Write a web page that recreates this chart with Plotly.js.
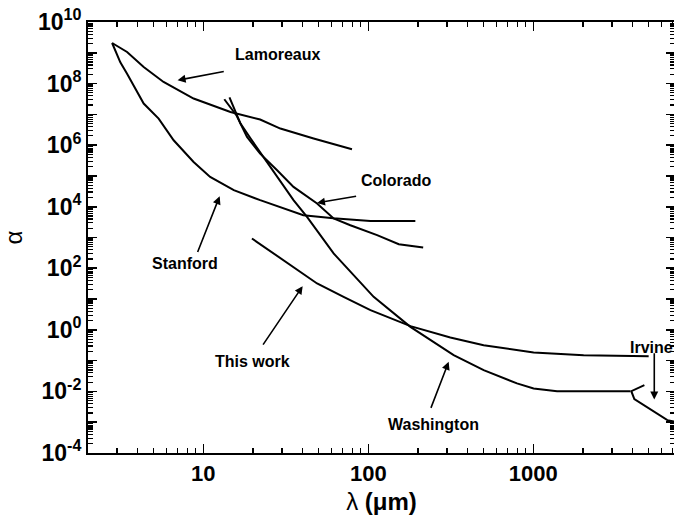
<!DOCTYPE html>
<html>
<head>
<meta charset="utf-8">
<script src="https://cdn.plot.ly/plotly-3.0.1.min.js"></script>
<style>
html,body{margin:0;padding:0;overflow:hidden;background:#fff;}
#chart{width:680px;height:522px;}
</style>
</head>
<body>
<div id="chart"></div>
<script>
// ---- data (lambda in micrometres, alpha) ----
var lamoreauxX = [2.80, 3.45, 4.35, 5.74, 8.73, 14.6, 22.1, 29.3, 46.6, 79.6];
var lamoreauxY = [2.08e9, 1.06e9, 3.46e8, 1.13e8, 3.26e7, 1.2e7, 6.8e6, 3.46e6, 1.64e6, 7.4e5];

var stanfordX = [2.80, 3.14, 3.45, 4.35, 5.36, 6.61, 8.73, 11.0, 15.3, 22.1, 40.4, 61.4, 102.8, 192.7];
var stanfordY = [2.08e9, 4.9e8, 2.1e8, 2.24e7, 7.3e6, 1.44e6, 2.85e5, 9.3e4, 3.44e4, 1.63e4, 5.3e3, 4.24e3, 3.46e3, 3.46e3];

var washingtonX = [14.4, 16.8, 19.3, 25.5, 35.2, 42.5, 61.6, 107.7, 179.9, 329, 500, 796, 1004, 1393, 3873];
var washingtonY = [3.59e7, 5.03e6, 1.67e6, 1.96e5, 1.63e4, 4.67e3, 303, 11.8, 1.25, 0.151, 0.0492, 0.0182, 0.0125, 0.0102, 0.0102];

var coloradoX = [13.4, 15.85, 18.4, 22.1, 28.0, 35.2, 48.9, 61.6, 77.8, 113, 153, 215];
var coloradoY = [3.09e7, 9.4e6, 1.85e6, 5.3e5, 1.53e5, 4.4e4, 1.27e4, 4.14e3, 2.5e3, 1.19e3, 606, 473];

var thisWorkX = [19.7, 30.7, 48.9, 70.8, 103, 180, 314, 500, 1004, 2018, 5000];
var thisWorkY = [929, 183, 32.1, 11.8, 4.37, 1.32, 0.566, 0.318, 0.184, 0.151, 0.140];

var irvineX = [4710, 3925, 4095, 5890, 6490, 7160];
var irvineY = [0.016, 0.0102, 0.00562, 0.0017, 0.00117, 0.00104];

var xTickVals = [10, 100, 1000];
var xTickText = ['10', '100', '1000'];
var yExponents = [-4, -3, -2, -1, 0, 1, 2, 3, 4, 5, 6, 7, 8, 9, 10];

// ---- build ticks ----
var yTickVals = yExponents.map(function(e){ return Math.pow(10, e); });
var yTickText = yExponents.map(function(e){ return (e % 2 === 0) ? '10<sup>' + e + '</sup>' : ''; });

var xMinor = [];
for (var d = 0; d <= 3; d++) {
  for (var m = 2; m <= 9; m++) {
    var v = m * Math.pow(10, d);
    if (v >= 2 && v <= 8000) xMinor.push(v);
  }
}
var yMinor = [];
for (var e = -4; e < 10; e++) {
  for (var k = 2; k <= 9; k++) yMinor.push(k * Math.pow(10, e));
}

var lineStyle = {color: '#000', width: 2};
function tr(x, y) {
  return {x: x, y: y, type: 'scatter', mode: 'lines', line: lineStyle, hoverinfo: 'none', showlegend: false};
}
var traces = [
  tr(lamoreauxX, lamoreauxY),
  tr(stanfordX, stanfordY),
  tr(washingtonX, washingtonY),
  tr(coloradoX, coloradoY),
  tr(thisWorkX, thisWorkY),
  tr(irvineX, irvineY)
];

var FONT = 'Liberation Sans, Arial, Helvetica, sans-serif';
function label(txt, lx, ly) {
  return {text: '<b>' + txt + '</b>', x: lx, y: ly, xref: 'x', yref: 'y', showarrow: false,
          font: {family: FONT, size: 16, color: '#000'}};
}
function arrow(tx, ty, hx, hy) {
  return {text: '', x: hx, y: hy, ax: tx, ay: ty, xref: 'x', yref: 'y', axref: 'x', ayref: 'y',
          showarrow: true, arrowhead: 2, arrowsize: 1, arrowwidth: 1.6, arrowcolor: '#000', standoff: 0, startstandoff: 0};
}

var annotations = [
  label('Lamoreaux', 1.452, 8.951),
  arrow(1.133, 8.399, 0.844, 8.107),
  label('Colorado', 2.170, 4.860),
  arrow(1.935, 4.351, 1.689, 4.123),
  label('Stanford', 0.891, 2.166),
  arrow(0.962, 2.481, 1.099, 4.341),
  label('This work', 1.297, -1.016),
  arrow(1.356, -0.529, 1.602, 1.419),
  label('Washington', 2.394, -3.062),
  arrow(2.376, -2.584, 2.487, -1.039),
  label('Irvine', 3.718, -0.562),
  arrow(3.733, -0.714, 3.733, -2.260)
];

var layout = {
  width: 680, height: 522, autosize: false,
  margin: {l: 88, r: 5, t: 22, b: 69, pad: 0},
  paper_bgcolor: '#fff', plot_bgcolor: '#fff',
  font: {family: FONT, color: '#000'},
  showlegend: false,
  xaxis: {
    type: 'log', range: [Math.log10(2), Math.log10(2) + 587 / 165],
    showgrid: false, zeroline: false,
    showline: true, linecolor: '#000', linewidth: 2, mirror: 'ticks',
    ticks: 'inside', ticklen: 9, tickwidth: 1.6, tickcolor: '#000',
    tickmode: 'array', tickvals: xTickVals, ticktext: xTickText,
    tickfont: {family: FONT, size: 22, color: '#000', weight: 'bold'},
    minor: {ticks: 'inside', ticklen: 5, tickwidth: 1.4, tickcolor: '#000', tickvals: xMinor, showgrid: false},
    title: {text: 'λ <b>(μm)</b>', font: {family: FONT, size: 24, color: '#000'}, standoff: 8}
  },
  yaxis: {
    type: 'log', range: [-4, 10],
    showgrid: false, zeroline: false,
    showline: true, linecolor: '#000', linewidth: 2, mirror: 'ticks',
    ticks: 'inside', ticklen: 9, tickwidth: 1.6, tickcolor: '#000',
    tickmode: 'array', tickvals: yTickVals, ticktext: yTickText,
    tickfont: {family: FONT, size: 23, color: '#000', weight: 'bold'},
    minor: {ticks: 'inside', ticklen: 5, tickwidth: 1.2, tickcolor: '#000', tickvals: yMinor, showgrid: false},
    title: {text: 'α', font: {family: FONT, size: 24, color: '#000'}, standoff: 10}
  },
  annotations: annotations
};

Plotly.newPlot('chart', traces, layout, {displayModeBar: false, staticPlot: true});
</script>
</body>
</html>
